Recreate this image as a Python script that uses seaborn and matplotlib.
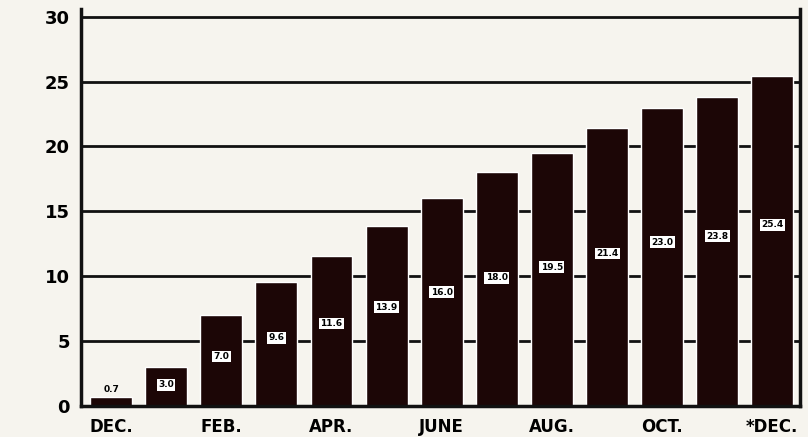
import numpy as np
import pandas as pd
import matplotlib
matplotlib.use("Agg")
import matplotlib.pyplot as plt
import seaborn as sns

# monthly values, Dec to Dec
months = ["DEC.", "JAN.", "FEB.", "MAR.", "APR.", "MAY", "JUNE", "JULY",
          "AUG.", "SEP.", "OCT.", "NOV.", "*DEC."]
values = [0.7, 3.0, 7.0, 9.6, 11.6, 13.9, 16.0, 18.0, 19.5, 21.4, 23.0, 23.8, 25.4]
value_labels = ["0.7", "3.0", "7.0", "9.6", "11.6", "13.9", "16.0", "18.0",
                "19.5", "21.4", "23.0", "23.8", "25.4"]
shown_ticks = ["DEC.", "", "FEB.", "", "APR.", "", "JUNE", "", "AUG.", "", "OCT.", "", "*DEC."]
y_ticks = [0, 5, 10, 15, 20, 25, 30]

df = pd.DataFrame({"month": months, "value": values})

sns.set_style("white")
plt.rcParams["font.family"] = ["DejaVu Sans"]
bg = "#f6f4ee"
bar_color = "#1c0606"

fig, ax = plt.subplots(figsize=(8.08, 4.37), dpi=100)
fig.patch.set_facecolor(bg)
ax.set_facecolor(bg)

for t in y_ticks[1:]:
    ax.axhline(t, color="#111111", lw=2, zorder=0)

sns.barplot(data=df, x="month", y="value", color=bar_color, width=0.76,
            saturation=1, ax=ax, zorder=2)

for i, (v, lab) in enumerate(zip(values, value_labels)):
    y = v + 0.6 if v < 1.5 else v * 0.55
    ax.text(i, y, lab, ha="center", va="center", fontsize=6.5, fontweight="bold",
            color="black", zorder=3,
            bbox=dict(boxstyle="square,pad=0.15", fc="white", ec="none") if v >= 1.5 else None)

ax.set_ylim(0, 30.6)
ax.set_xlim(-0.55, 12.5)
ax.set_yticks(y_ticks)
ax.set_yticklabels([str(t) for t in y_ticks], fontsize=13, fontweight="bold", color="black")
ax.set_xticks(range(len(months)))
ax.set_xticklabels(shown_ticks, fontsize=12, fontweight="bold", color="black")
ax.tick_params(axis="both", length=0, pad=8)
ax.set_xlabel("")
ax.set_ylabel("")
ax.spines["top"].set_visible(False)
for s in ["left", "bottom", "right"]:
    ax.spines[s].set_linewidth(2.5)
    ax.spines[s].set_color("#111111")

plt.subplots_adjust(left=0.1, right=0.99, top=0.98, bottom=0.07)
plt.savefig("out.png", dpi=100, facecolor=bg)
